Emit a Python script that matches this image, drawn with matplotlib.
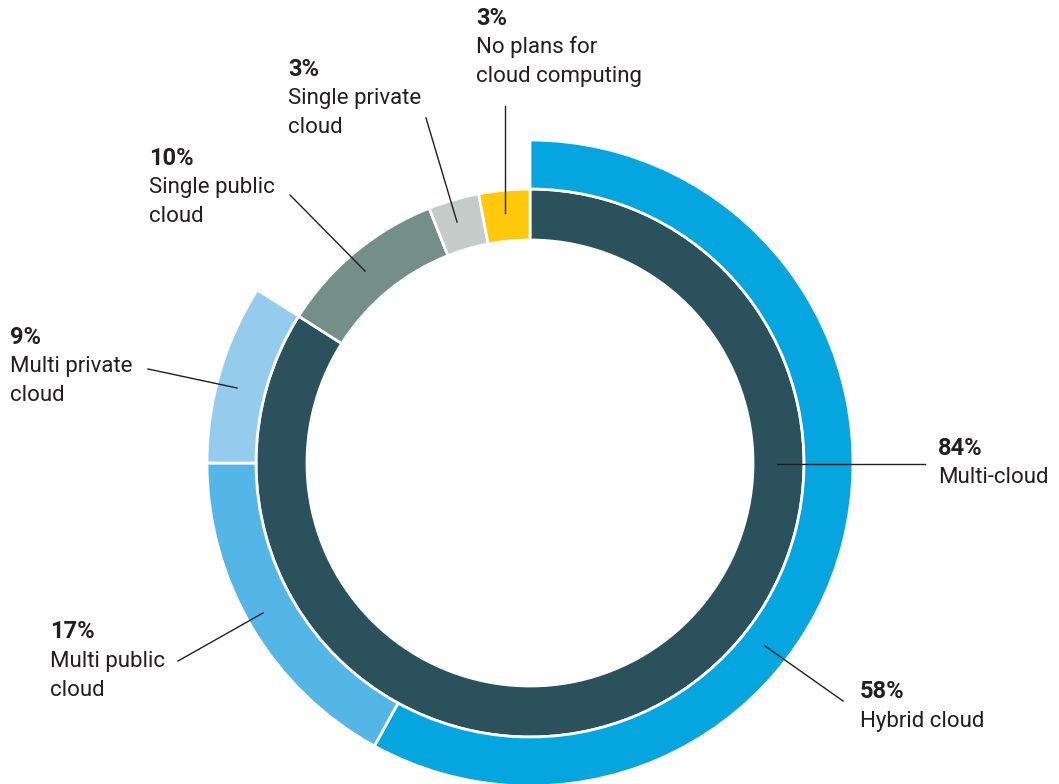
import matplotlib.pyplot as plt

W, H = 1059, 784

# inner ring: share of organisations by overall strategy
inner_labels = ["Multi-cloud", "Single public\ncloud", "Single private\ncloud", "No plans for\ncloud computing"]
inner_pct = [84, 10, 3, 3]
inner_colors = ["#2a515c", "#748e88", "#c4cbc8", "#ffc80a"]

# outer ring: breakdown of the multi-cloud share
outer_labels = ["Hybrid cloud", "Multi public\ncloud", "Multi private\ncloud"]
outer_pct = [58, 17, 9]
outer_colors = ["#05a5df", "#54b6e6", "#95cbed"]

# label anchors (left x, y of the percentage line, in pixels from the top)
label_pos = {
    "Multi-cloud": (938, 448),
    "Single public\ncloud": (149, 158),
    "Single private\ncloud": (288, 69),
    "No plans for\ncloud computing": (476, 18),
    "Hybrid cloud": (860, 692),
    "Multi public\ncloud": (50, 632),
    "Multi private\ncloud": (10, 337),
}
# leader lines: (text end, ring end), pixels from the top
leaders = {
    "Multi-cloud": ((925, 464), (777, 464)),
    "Single public\ncloud": ((290, 195), (365, 271)),
    "Single private\ncloud": ((426, 118), (457, 222)),
    "No plans for\ncloud computing": ((505, 106), (505, 213)),
    "Hybrid cloud": ((843, 701), (765, 646)),
    "Multi public\ncloud": ((178, 661), (263, 613)),
    "Multi private\ncloud": ((148, 369), (237, 388)),
}

text_color = "#231f20"
line_step = 29
cx, cy = 530, H - 463

fig = plt.figure(figsize=(W / 100, H / 100), dpi=100)
ax = fig.add_axes([0, 0, 1, 1])

ax.pie([v / 100 for v in inner_pct], normalize=False, radius=274, center=(cx, cy),
       startangle=90, counterclock=False, colors=inner_colors,
       wedgeprops=dict(width=51, edgecolor="white", linewidth=2))
ax.pie([v / 100 for v in outer_pct], normalize=False, radius=323, center=(cx, cy),
       startangle=90, counterclock=False, colors=outer_colors,
       wedgeprops=dict(width=49, edgecolor="white", linewidth=2))

ax.set_xlim(0, W)
ax.set_ylim(0, H)
ax.set_aspect("equal")
ax.axis("off")

pct_of = dict(zip(inner_labels + outer_labels, inner_pct + outer_pct))
for name, (x, y) in label_pos.items():
    ax.text(x, H - y, f"{pct_of[name]}%", fontsize=17, fontweight="bold",
            family="Roboto", color=text_color, va="center", ha="left")
    for k, part in enumerate(name.split("\n"), start=1):
        ax.text(x, H - y - k * line_step, part, fontsize=16, family="Roboto",
                color=text_color, va="center", ha="left")
    (x0, y0), (x1, y1) = leaders[name]
    ax.plot([x0, x1], [H - y0, H - y1], color=text_color, lw=1.0)

fig.savefig("out.png", dpi=100)
